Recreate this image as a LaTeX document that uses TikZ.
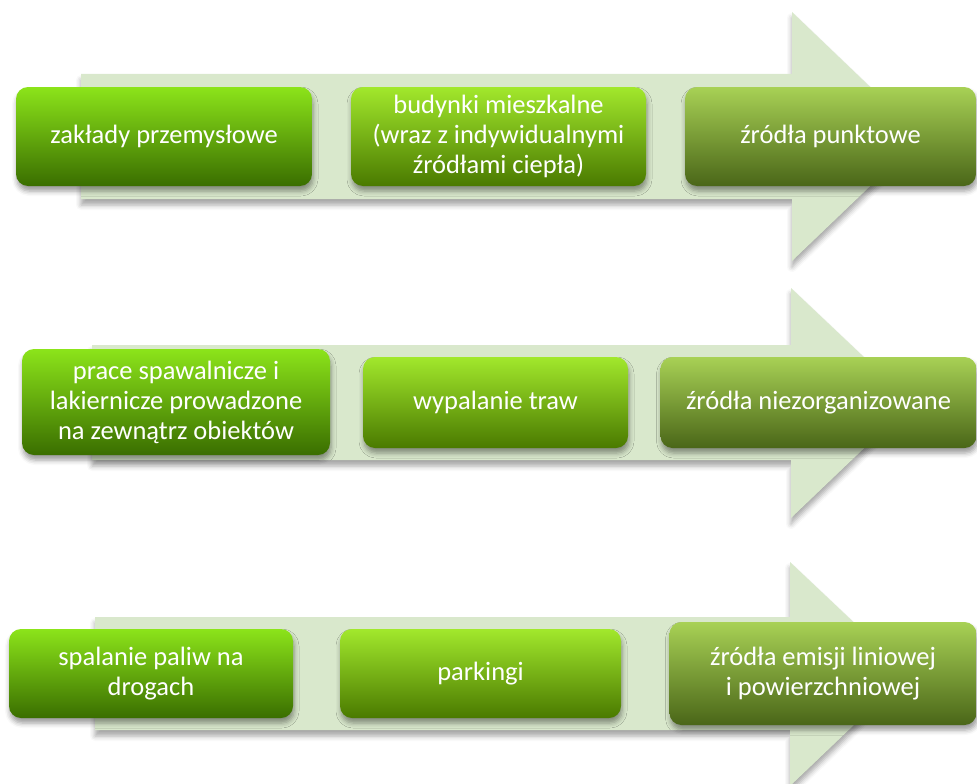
\documentclass[tikz,border=0pt]{standalone}
\usepackage{fontspec}
\setmainfont{Carlito}
\usetikzlibrary{shadows.blur}
\definecolor{arrowc}{HTML}{D9E8CC}
\definecolor{la}{HTML}{8CE41A}
\definecolor{lb}{HTML}{62B200}
\definecolor{lc}{HTML}{3A6E00}
\definecolor{ma}{HTML}{A2E82C}
\definecolor{mb}{HTML}{78C000}
\definecolor{mc}{HTML}{4A7A00}
\definecolor{ra}{HTML}{A8D155}
\definecolor{rb}{HTML}{7BA332}
\definecolor{rc}{HTML}{4A6618}
\tikzset{
  arr/.style={fill=arrowc, draw=none,
    blur shadow={shadow xshift=0pt, shadow yshift=-6pt, shadow blur radius=5pt, shadow opacity=35}},
  box/.style={rectangle, rounded corners=12pt, draw=none, text=white, align=center,
    inner sep=0pt, font=\fontsize{26.5}{30}\selectfont,
    blur shadow={shadow xshift=1pt, shadow yshift=-5pt, shadow blur radius=5pt, shadow opacity=40}},
  lbox/.style={box, top color=la, middle color=lb, bottom color=lc},
  mbox/.style={box, top color=ma, middle color=mb, bottom color=mc},
  rbox/.style={box, top color=ra, middle color=rb, bottom color=rc, font=\fontsize{26.5}{30}\selectfont},
}
\begin{document}
\begin{tikzpicture}[x=1pt, y=-1pt]
\useasboundingbox (0,0) rectangle (977,784);
% row 1 arrow
\fill[arr] (81,74) -- (792,74) -- (792,12) -- (922,136.5) -- (792,261) -- (792,199) -- (81,199) -- cycle;
% row 2 arrow
\fill[arr] (92,345) -- (791,345) -- (791,288) -- (912,402.5) -- (791,518) -- (791,460) -- (92,460) -- cycle;
% row 3 arrow
\fill[arr] (95,617) -- (790,617) -- (790,562) -- (908,673.5) -- (790,786) -- (790,730) -- (95,730) -- cycle;
% row 1 boxes
\node[lbox, minimum width=296pt, minimum height=99pt] (a1) at (164,136.5) {zakłady przemysłowe};
\node[mbox, minimum width=295pt, minimum height=99pt] (a2) at (498.5,136.5) {budynki mieszkalne\\(wraz z indywidualnymi\\źródłami ciepła)};
\node[rbox, minimum width=291pt, minimum height=99pt] (a3) at (830.5,136.5) {źródła punktowe};
% row 2 boxes
\node[lbox, minimum width=308pt, minimum height=106pt] (b1) at (176,402) {prace spawalnicze i\\lakiernicze prowadzone\\na zewnątrz obiektów};
\node[mbox, minimum width=265pt, minimum height=91pt] (b2) at (495.5,402.5) {wypalanie traw};
\node[rbox, minimum width=316pt, minimum height=91pt] (b3) at (818.5,402.5) {źródła niezorganizowane};
% row 3 boxes
\node[lbox, minimum width=284pt, minimum height=89pt] (c1) at (151,673.5) {spalanie paliw na\\drogach};
\node[mbox, minimum width=281pt, minimum height=89pt] (c2) at (480.5,673.5) {parkingi};
\node[rbox, minimum width=307pt, minimum height=103pt] (c3) at (823,673.5) {źródła emisji liniowej\\i powierzchniowej};
\end{tikzpicture}
\end{document}
